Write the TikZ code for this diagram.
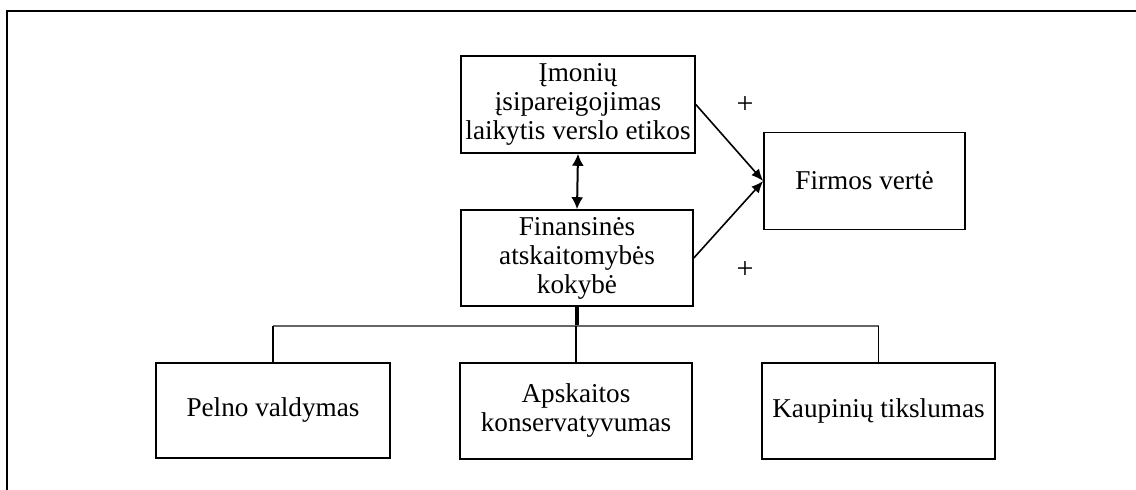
\documentclass[tikz,border=0pt]{standalone}
\usepackage{fontspec}
\setmainfont{Liberation Serif}
\usepackage{tikz}
\usetikzlibrary{shapes,arrows,arrows.meta,positioning,calc}

\begin{document}
\begin{tikzpicture}[x=0.5pt, y=-0.5pt, every node/.style={font=\fontsize{13.6}{14.5}\selectfont}]

% Diagram of firm value factors
\tikzstyle{block}=[rectangle, draw=black, line width=0.8pt, align=center, inner sep=2pt]
\tikzstyle{link}=[line width=0.8pt]

\useasboundingbox (0,0) rectangle (1136,490);

% Frame
\draw[line width=1.1pt] (7,495) -- (7,11) -- (1141,11);

% Upper blocks
\node[block, minimum width=117pt, minimum height=48.5pt] (ethics) at (578,104.5) {Įmonių\\įsipareigojimas\\laikytis verslo etikos};
\node[block, minimum width=116pt, minimum height=48pt] (fin) at (577,258) {Finansinės\\atskaitomybės\\kokybė};
\node[block, minimum width=100.5pt, minimum height=48.5pt] (firm) at (864.5,181) {Firmos vertė};

% Lower blocks
\node[block, minimum width=117pt, minimum height=47.5pt] (pelno) at (273,410.5) {Pelno valdymas};
\node[block, minimum width=116pt, minimum height=48pt] (apsk) at (576,411) {Apskaitos\\konservatyvumas};
\node[block, minimum width=116.5pt, minimum height=48pt] (kaup) at (878.5,411) {Kaupinių tikslumas};

% Arrows
\draw[line width=1pt, {Latex[length=6pt,width=6pt]}-{Latex[length=6pt,width=6pt]}] (ethics.south) -- (fin.north);
\draw[link, -{Latex[length=6pt,width=5pt]}] (ethics.east) -- (firm.west);
\draw[link, -{Latex[length=6pt,width=5pt]}] (fin.east) -- (firm.west);

% Signs
\node[font=\fontsize{15}{15}\selectfont] (plus1) at (745,105) {+};
\node[font=\fontsize{15}{15}\selectfont] (plus2) at (745,270) {+};

% Tree
\coordinate (bus) at (577,326);
\draw[line width=1.6pt] (fin.south) -- (bus);
\draw[line width=1pt, black!60] (pelno.north |- bus) -- (kaup.north |- bus);
\draw[link] (pelno.north |- bus) -- (pelno.north);
\draw[link] (apsk.north |- bus) -- (apsk.north);
\draw[link] (kaup.north |- bus) -- (kaup.north);

\end{tikzpicture}
\end{document}
